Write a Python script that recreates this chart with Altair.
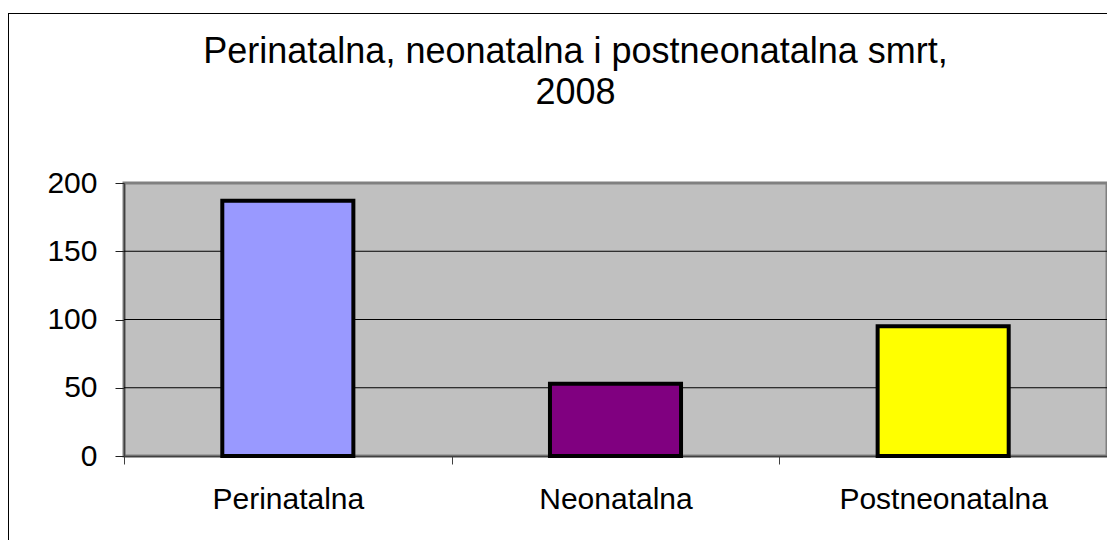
import altair as alt
import pandas as pd

categories = ["Perinatalna", "Neonatalna", "Postneonatalna"]
values = [187, 53, 95]
colors = ["#9999FF", "#800080", "#FFFF00"]
y_ticks = [0, 50, 100, 150, 200]
grid_values = [50, 100, 150]
title_lines = ["Perinatalna, neonatalna i postneonatalna smrt,", "2008"]

df = pd.DataFrame({"cat": categories, "val": values, "color": colors})
grid_df = pd.DataFrame({"g": grid_values})

FONT = "Liberation Sans"

yscale = alt.Scale(domain=[0, 200])
yaxis = alt.Axis(title=None, values=y_ticks, labelFontSize=30, labelFont=FONT,
                 labelColor="black", labelPadding=18, tickSize=9, tickColor="#202020",
                 domainColor="#404040", domainWidth=1.5, grid=False)

grid = alt.Chart(grid_df).mark_rule(color="#000000", strokeWidth=1).encode(
    y=alt.Y("g:Q", scale=yscale, axis=yaxis))

bars = alt.Chart(df).mark_bar(stroke="black", strokeWidth=4, width=alt.RelativeBandSize(0.4)).encode(
    x=alt.X("cat:N", sort=categories,
            scale=alt.Scale(paddingInner=0, paddingOuter=0),
            axis=alt.Axis(title=None, labelAngle=0, labelFontSize=30, labelFont=FONT,
                          labelColor="black", labelPadding=20, labelLimit=400, tickSize=8,
                          tickColor="#404040", tickBand="extent", domain=True,
                          domainColor="#404040", domainWidth=1.5, grid=False)),
    y=alt.Y("val:Q", scale=yscale, axis=yaxis),
    color=alt.Color("color:N", scale=None),
)

border = pd.DataFrame({"a": [0]})
left_line = alt.Chart(border).mark_rule(color="black", strokeWidth=1).encode(
    x=alt.value(-115.5), y=alt.value(-170), y2=alt.value(400))
top_line = alt.Chart(border).mark_rule(color="black", strokeWidth=1).encode(
    x=alt.value(-116), x2=alt.value(1010), y=alt.value(-169.5))

chart = alt.layer(grid, bars, left_line, top_line).properties(
    width=983, height=273,
    autosize=alt.AutoSizeParams(type="none"),
    padding={"left": 116, "top": 175, "right": 0, "bottom": 84},
    title=alt.TitleParams(text=title_lines, fontSize=36, font=FONT, fontWeight="normal",
                          color="black", anchor="middle", dx=-40, offset=-99, lineHeight=41),
).configure(background="white").configure_view(
    fill="#C0C0C0", stroke="#808080", strokeWidth=3
)

chart.save("out.html", embed_options={"renderer": "svg", "actions": False})
